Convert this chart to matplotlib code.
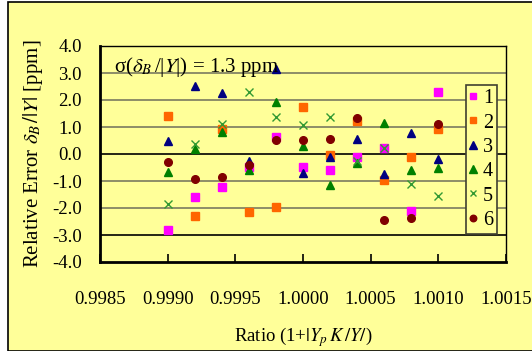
import matplotlib
matplotlib.use("Agg")
from matplotlib import pyplot as plt
from matplotlib.patches import Rectangle

plt.rcParams['font.family'] = ['Liberation Serif', 'DejaVu Serif']
plt.rcParams['mathtext.fontset'] = 'stix'

ratio = [0.9990, 0.9992, 0.9994, 0.9996, 0.9998, 1.0000,
         1.0002, 1.0004, 1.0006, 1.0008, 1.0010]

s1 = [-2.81, -1.58, -1.22, -0.47, 0.62, -0.49, -0.59, -0.11, 0.21, -2.11, 2.31]
s2 = [1.42, -2.28, 0.91, -2.16, -1.98, 1.73, -0.04, 1.22, -0.96, -0.12, 0.93]
s3 = [0.48, 2.52, 2.25, -0.25, 3.15, -0.72, -0.10, 0.54, -0.75, 0.79, -0.19]
s4 = [-0.65, 0.17, 0.83, -0.59, 1.94, 0.30, -1.15, -0.35, 1.16, -0.59, -0.53]
s5 = [-1.86, 0.37, 1.11, 2.31, 1.36, 1.07, 1.38, -0.25, 0.21, -1.11, -1.56]
s6 = [-0.28, -0.94, -0.84, -0.41, 0.52, 0.52, 0.56, 1.32, -2.44, -2.38, 1.10]

labels = ["1", "2", "3", "4", "5", "6"]
xticks = [0.9985, 0.9990, 0.9995, 1.0000, 1.0005, 1.0010, 1.0015]
yticks = [-4, -3, -2, -1, 0, 1, 2, 3, 4]

bg = "#FFFF99"
fig = plt.figure(figsize=(5.32, 3.51), dpi=100, facecolor="white")
fig.patches.append(Rectangle((8 / 532, 0), 1, 1 - 2 / 351, transform=fig.transFigure,
                             facecolor=bg, edgecolor="black", linewidth=1.2, zorder=-10))

ax = fig.add_axes([100 / 532, 1 - 262 / 351, 406 / 532, 216 / 351])
ax.set_facecolor(bg)

for yv in yticks[1:-1]:
    c = "black" if yv in (0, -3) else "#7a7a60"
    ax.axhline(yv, color=c, linewidth=1.2, zorder=1)

styles = [
    dict(marker="s", color="#FF00FF", ms=5.5),
    dict(marker="s", color="#FF6600", ms=5.5),
    dict(marker="^", color="#000080", ms=6),
    dict(marker="^", color="#008000", ms=6),
    dict(marker="x", color="#339933", ms=5.5, mew=1),
    dict(marker="o", color="#800000", ms=5.5),
]
for ys, st, lab in zip([s1, s2, s3, s4, s5, s6], styles, labels):
    ax.plot(ratio, ys, linestyle="none", label=lab, zorder=3, **st)

ax.set_xlim(0.9985, 1.0015)
ax.set_ylim(-4, 4)
ax.set_xticks(xticks)
ax.set_xticklabels(["%.4f" % v for v in xticks])
ax.set_yticks(yticks)
ax.set_yticklabels(["%.1f" % v for v in yticks])
ax.tick_params(axis="x", direction="in", length=6, width=1.2, pad=21, labelsize=13.5)
ax.tick_params(axis="y", direction="in", length=0, pad=13, labelsize=13.5)
for side in ["left", "bottom"]:
    ax.spines[side].set_linewidth(2)
for side in ["top", "right"]:
    ax.spines[side].set_linewidth(1)

ax.set_ylabel(r"Relative Error $\delta_B\,/|Y|$ [ppm]", fontsize=15, labelpad=5)
ax.set_xlabel(r"Ratio (1+$|Y_p\,K\,/Y/$)", fontsize=13.5, labelpad=12)

ax.text(0.035, 0.905, r"σ($\delta_B\,$/|$Y$|) = 1.3 ppm", transform=ax.transAxes,
        fontsize=15, va="center", ha="left")

leg = fig.legend(loc="center", bbox_to_anchor=(481.5 / 532, 1 - 159.5 / 351),
                 fontsize=14.5, handlelength=0.3, handletextpad=0.35, labelspacing=0.26,
                 borderpad=0.2, borderaxespad=0, markerscale=0.85, fancybox=False,
                 framealpha=1, facecolor=bg, edgecolor="#404030")
leg.get_frame().set_linewidth(1.2)

fig.savefig("out.png", dpi=100, facecolor=fig.get_facecolor())
